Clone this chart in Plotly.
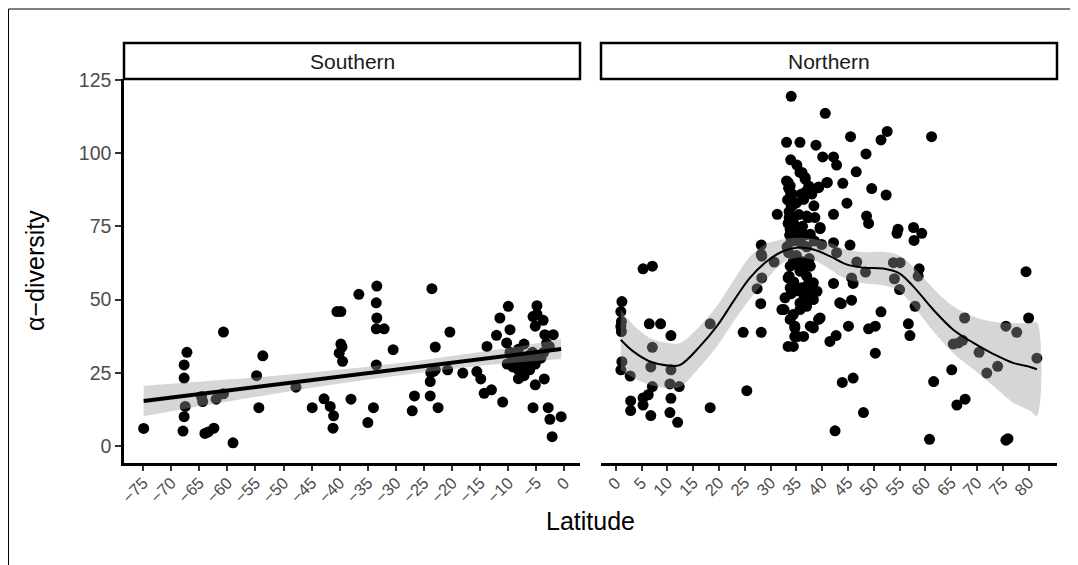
import plotly.graph_objects as go

# ---------------- data ----------------
south_lat = [-74.9, -67.2, -67.7, -67.7, -67.5, -67.7, -67.9, -64.6, -64.4, -64.0, -63.4, -62.4, -62.0,
             -60.7, -60.7, -59.0, -54.8, -53.7, -54.4, -47.8, -44.9, -42.8, -41.7, -41.1, -41.2, -40.5,
             -39.8, -39.8, -39.6, -40.1, -39.5, -38.0, -36.6, -33.4, -33.5, -33.4, -33.5, -32.1, -33.5,
             -34.0, -35.0, -30.5, -27.1, -26.7, -23.6, -23.0, -23.9, -23.9, -23.3, -22.5, -20.8, -20.4,
             -18.1, -15.6, -14.9, -14.3, -13.0, -11.0, -13.8, -12.1, -11.5, -10.0, -9.7, -10.3, -7.2,
             -4.9, -5.6, -4.9, -3.8, -5.2, -3.5, -2.0, -5.2, -3.6, -5.6, -2.9, -2.6, -0.6, -2.2, -23.0,
             -23.8,
             -9.2, -8.7, -8.2, -7.7, -7.2, -6.7, -6.2, -9.7, -8.2, -7.2, -5.2, -4.2, -3.7, -3.2, -10.2,
             -9.2, -8.2, -6.2, -5.2, -4.2, -2.7, -7.2, -8.7, -6.7, -5.7]
south_div = [6, 32, 27.7, 23.2, 13.5, 10, 5.1, 16.9, 15.2, 4.3, 4.8, 6.1, 16,
             17.8, 38.9, 1.1, 24, 30.8, 13.1, 20.1, 13.1, 16.1, 13.5, 10.3, 6.1, 45.9,
             45.9, 34.8, 33.8, 31.7, 28.9, 16, 51.8, 54.6, 48.9, 43.7, 40, 40, 27.7,
             13.1, 8, 32.9, 12, 17.1, 53.7, 33.8, 22, 17.1, 25.5, 13.1, 26, 38.9,
             24.9, 25.4, 22.9, 18, 19.2, 15, 34, 37.8, 43.7, 47.7, 39.7, 35.2, 34.8,
             47.9, 44.2, 45, 42.9, 40.9, 38, 38, 20.9, 22.9, 13.1, 13.1, 9.1, 10, 3.2, 26,
             25.1,
             30, 28, 26, 25, 27, 29, 31, 32, 33, 24, 28, 30, 32, 35, 28,
             27, 23, 26, 29, 31, 34, 30, 29, 27, 32]

north_lat = [34.0, 40.6, 33.1, 35.7, 38.8, 45.5, 51.4, 52.6, 61.2, 40.1, 42.2, 42.8, 48.5, 46.6, 33.9,
             35.1, 35.7, 36.7, 33.1, 33.8,
             33.5, 34.2, 33.3, 34.0, 33.6, 34.3, 33.4, 34.1, 33.7, 34.4, 33.2,
             41.0, 44.0, 39.3, 38.0, 37.0, 49.6, 52.4, 44.8, 38.4, 42.2, 31.3, 48.6, 49.0, 37.3, 38.6,
             39.6, 37.7, 54.5, 54.7, 57.7, 59.3, 57.8, 28.2, 28.2, 42.2, 45.4,
             34.0, 35.0, 36.0, 37.0, 33.5, 35.0, 37.5, 38.5, 34.5, 36.0,
             39.9, 42.8, 30.7, 28.3, 27.4, 28.1, 24.7, 28.2, 18.3, 25.4, 18.3,
             33.4, 35.7, 37.0, 38.3, 39.0, 38.3, 37.0, 35.7, 34.4, 34.7, 34.7, 33.4, 32.8, 32.2, 33.8,
             36.0, 36.4, 38.3, 39.6, 35.7, 34.4, 36.7,
             42.2, 46.0, 45.7, 43.7, 45.7, 46.7, 48.4, 51.4, 45.1, 49.0, 50.3, 41.5, 42.7, 50.3, 43.9,
             46.0, 48.0, 42.5, 53.8, 55.1, 54.0, 55.0, 58.8, 58.6, 58.0, 56.7, 57.0, 61.6, 60.8, 65.1,
             66.1, 67.7, 65.4, 66.4, 67.2, 67.6, 70.4, 71.9, 74.0, 75.6, 77.7, 75.6, 76.0, 79.5, 80.0,
             81.6,
             1.2, 1.0, 1.1, 1.0, 1.1, 1.2, 1.0, 2.8, 6.5, 8.7, 10.7, 7.1, 6.8, 10.7, 10.5, 12.3, 7.1,
             6.3, 5.3, 5.3, 2.9, 2.9, 6.8, 10.7, 10.5, 12.0, 5.3, 7.1,
             36.1, 36.7, 37.4, 33.4, 33.9, 34.2, 33.6, 34.5, 33.8, 38.3, 39.3, 40.9, 36.4, 37.0, 39.6,
             28.3, 33.8, 35.7, 37.7, 33.6, 34.5, 34.0, 35.2, 37.2, 36.5, 37.6, 32.6, 33.8, 34.7, 35.3,
             34.4, 37.7, 39.3, 43.4, 35.0, 36.0, 35.5, 36.2, 35.0, 36.6]
north_div = [119.4, 113.6, 103.7, 103.7, 102.7, 105.6, 104.5, 107.4, 105.6, 98.7, 98.7, 95.9, 99.7, 93.6, 97.7,
             95.9, 93.4, 91.7, 90.5, 88.8,
             88, 86, 84, 82, 80, 78, 76, 74, 72, 70, 68,
             90, 89.7, 88.2, 86, 87.1, 87.9, 85.7, 82.9, 82, 79.1, 79.1, 78.5, 76, 78, 78,
             74.6, 72.3, 72.6, 74, 74.6, 72.6, 70.2, 68.6, 65.4, 69.4, 68.6,
             70, 71, 69, 68, 66, 65, 64, 70, 62, 63,
             68.8, 66, 62.8, 57.4, 53.7, 48.6, 38.8, 38.8, 41.7, 18.9, 13.1,
             57.4, 59.7, 58, 55.7, 52.8, 50, 47.7, 46.6, 44.9, 40.3, 37.4, 34, 50.6, 46.6, 54,
             54, 37.4, 40.3, 43.7, 48.8, 63.1, 61.4,
             55.5, 55.5, 57.4, 48.6, 49.8, 62.8, 59.4, 45.8, 40.9, 40, 40.9, 35.7, 37.7, 31.7, 21.7,
             23.2, 11.4, 5.2, 62.6, 62.6, 57.1, 53.4, 60.5, 58, 47.7, 41.7, 37.7, 22, 2.3, 26,
             14, 16, 34.8, 35.2, 36.1, 43.7, 32, 24.9, 27.2, 40.9, 38.8, 2, 2.5, 59.5, 43.7,
             30,
             49.3, 45.9, 42.5, 40.8, 39.1, 28.8, 26, 23.9, 41.7, 41.7, 37.7, 33.7, 27, 26, 21.2, 20.3, 20.3,
             17.5, 14, 16.4, 15.4, 12.1, 10.4, 16.3, 11.4, 8.1, 60.5, 61.4,
             93.4, 91.1, 88.8, 90, 86, 82, 78, 76, 74, 87.7, 88.4, 89.9, 84.2, 78.5, 74.2,
             64.8, 61.4, 61.4, 61.4, 58, 56, 52, 53, 55, 51, 52.5, 46.6, 43.2, 40.9, 37.4,
             34, 40.9, 43.2, 48.9, 83, 86, 79, 75, 73, 72]

# fitted lines and confidence bands
south_fit_lat = [-74.9, -65, -55, -45, -35, -25, -15, -8, -0.6]
south_fit = [15.4, 17.8, 20.1, 22.5, 24.9, 27.3, 29.7, 31.3, 33.1]
south_lo = [10.2, 13.6, 16.8, 19.9, 22.7, 25.2, 27.4, 28.6, 29.7]
south_hi = [20.6, 22.0, 23.4, 25.1, 27.1, 29.4, 32.0, 34.0, 36.5]

north_fit_lat = [0.97, 3.4, 6.6, 10.5, 12.5, 16.3, 19.6, 22.8, 26.0, 29.3, 32.4, 35.0, 38.3, 41.5,
                 44.7, 47.9, 51.8, 54.8, 57.6, 61.5, 65.4, 69.3, 73.2, 77.1, 80.3, 81.6]
north_fit = [36.3, 32.3, 28.9, 27.4, 27.7, 34.0, 40.9, 49.4, 57.4, 63.1, 66.5, 67.7, 67.1, 64.8,
             62.0, 60.9, 60.6, 59.1, 54.6, 46.6, 39.7, 35.2, 31.4, 28.3, 27.0, 26.2]
north_lo = [26.0, 23.3, 20.9, 19.7, 20.2, 27.0, 34.0, 42.4, 50.2, 57.1, 62.5, 64.3, 63.5, 60.3,
            57.0, 55.6, 54.9, 53.1, 47.9, 39.3, 31.7, 26.2, 20.4, 14.7, 12.0, 10.2]
north_hi = [46.6, 41.3, 36.9, 35.1, 35.2, 41.0, 47.8, 56.4, 64.6, 69.1, 70.5, 71.1, 70.7, 69.3,
            67.0, 66.2, 66.3, 65.1, 61.3, 53.9, 47.7, 44.2, 42.4, 41.9, 42.0, 42.2]

south_ticks = [-75, -70, -65, -60, -55, -50, -45, -40, -35, -30, -25, -20, -15, -10, -5, 0]
north_ticks = [0, 5, 10, 15, 20, 25, 30, 35, 40, 45, 50, 55, 60, 65, 70, 75, 80]
y_ticks = [0, 25, 50, 75, 100, 125]
panel_names = ["Southern", "Northern"]

# ---------------- figure ----------------
# the page body adds an 8px offset, so the figure is 8px smaller than the window
OFF = 8
W, H = 1078 - OFF, 565 - OFF
ML, MR, MT, MB = 124 - OFF, 21, 43 - OFF, 102
PW, PH = W - ML - MR, H - MT - MB
left_dom = [0, 456 / PW]
right_dom = [(601 - 124) / PW, 1]
ydom_top = 384 / PH

BAND = "rgba(153,153,153,0.4)"
FONT = "Liberation Sans, Arial, sans-serif"

fig = go.Figure()

fig.add_trace(go.Scatter(x=south_lat, y=south_div, mode="markers", xaxis="x", yaxis="y",
                         marker=dict(color="black", size=11, line=dict(width=0)), showlegend=False))
fig.add_trace(go.Scatter(x=north_lat, y=north_div, mode="markers", xaxis="x2", yaxis="y2",
                         marker=dict(color="black", size=11, line=dict(width=0)), showlegend=False))

fig.add_trace(go.Scatter(x=south_fit_lat + south_fit_lat[::-1], y=south_hi + south_lo[::-1],
                         fill="toself", fillcolor=BAND, line=dict(width=0), mode="lines",
                         xaxis="x", yaxis="y", showlegend=False, hoverinfo="skip"))
fig.add_trace(go.Scatter(x=north_fit_lat + north_fit_lat[::-1], y=north_hi + north_lo[::-1],
                         fill="toself", fillcolor=BAND, line=dict(width=0, shape="spline"), mode="lines",
                         xaxis="x2", yaxis="y2", showlegend=False, hoverinfo="skip"))

fig.add_trace(go.Scatter(x=south_fit_lat, y=south_fit, mode="lines", line=dict(color="black", width=4),
                         xaxis="x", yaxis="y", showlegend=False))
fig.add_trace(go.Scatter(x=north_fit_lat, y=north_fit, mode="lines",
                         line=dict(color="black", width=2, shape="spline"),
                         xaxis="x2", yaxis="y2", showlegend=False))


def fmt(v):
    return ("\u2212" + str(abs(v))) if v < 0 else str(v)


ytickfont = dict(family=FONT, size=19.5, color="#4D4D4D")
xtickfont = dict(family=FONT, size=16.5, color="#4D4D4D")
xcommon = dict(showline=True, linecolor="black", linewidth=2.5, ticks="outside", ticklen=5,
               tickwidth=2, tickcolor="#333333", tickangle=-45, tickfont=xtickfont,
               ticklabelstandoff=-4, showgrid=False, zeroline=False)

fig.update_layout(
    width=W, height=H,
    margin=dict(l=ML, r=MR, t=MT, b=MB),
    paper_bgcolor="white", plot_bgcolor="white",
    xaxis=dict(domain=left_dom, range=[-78.4, 2.76], tickvals=south_ticks,
               ticktext=[fmt(v) for v in south_ticks], anchor="y", **xcommon),
    xaxis2=dict(domain=right_dom, range=[-2.85, 85.5], tickvals=north_ticks,
                ticktext=[fmt(v) for v in north_ticks], anchor="y2", **xcommon),
    yaxis=dict(domain=[0, ydom_top], range=[-5.8, 125.3], tickvals=y_ticks,
               ticktext=[str(v) for v in y_ticks], showline=True, linecolor="black",
               linewidth=2.5, ticks="outside", ticklen=6, tickwidth=2, tickcolor="#333333",
               tickfont=ytickfont, showgrid=False, zeroline=False, anchor="x"),
    yaxis2=dict(domain=[0, ydom_top], matches="y", anchor="x2", showline=False,
                showticklabels=False, ticks="", showgrid=False, zeroline=False),
    font=dict(family=FONT),
)

shapes = []
annotations = []
for dom, name in zip([left_dom, right_dom], panel_names):
    shapes.append(dict(type="rect", xref="paper", yref="paper", x0=dom[0], x1=dom[1],
                       y0=ydom_top, y1=1, line=dict(color="black", width=2.5), fillcolor="white",
                       layer="above"))
    annotations.append(dict(text=name, xref="paper", yref="paper", x=(dom[0] + dom[1]) / 2,
                            y=(ydom_top + 1) / 2, showarrow=False, xanchor="center", yanchor="middle",
                            font=dict(family=FONT, size=21, color="#1A1A1A")))

# outer frame of the image (left and top edges visible)
shapes.append(dict(type="rect", xref="paper", yref="paper",
                   x0=(0.5 - ML) / PW, x1=(1300 - ML) / PW,
                   y0=-(800) / PH, y1=1 + (MT - 1) / PH,
                   line=dict(color="black", width=1), fillcolor="rgba(0,0,0,0)", layer="above"))

annotations.append(dict(text="Latitude", xref="paper", yref="paper", x=0.5, y=-(521 - 463) / PH,
                        showarrow=False, xanchor="center", yanchor="middle",
                        font=dict(family=FONT, size=25, color="black")))
annotations.append(dict(text="\u03b1\u2212diversity", xref="paper", yref="paper",
                        x=(35 - 124) / PW, y=ydom_top / 2, textangle=-90, showarrow=False,
                        xanchor="center", yanchor="middle",
                        font=dict(family=FONT, size=25, color="black")))

fig.update_layout(shapes=shapes, annotations=annotations)
fig.write_html("out.html")
